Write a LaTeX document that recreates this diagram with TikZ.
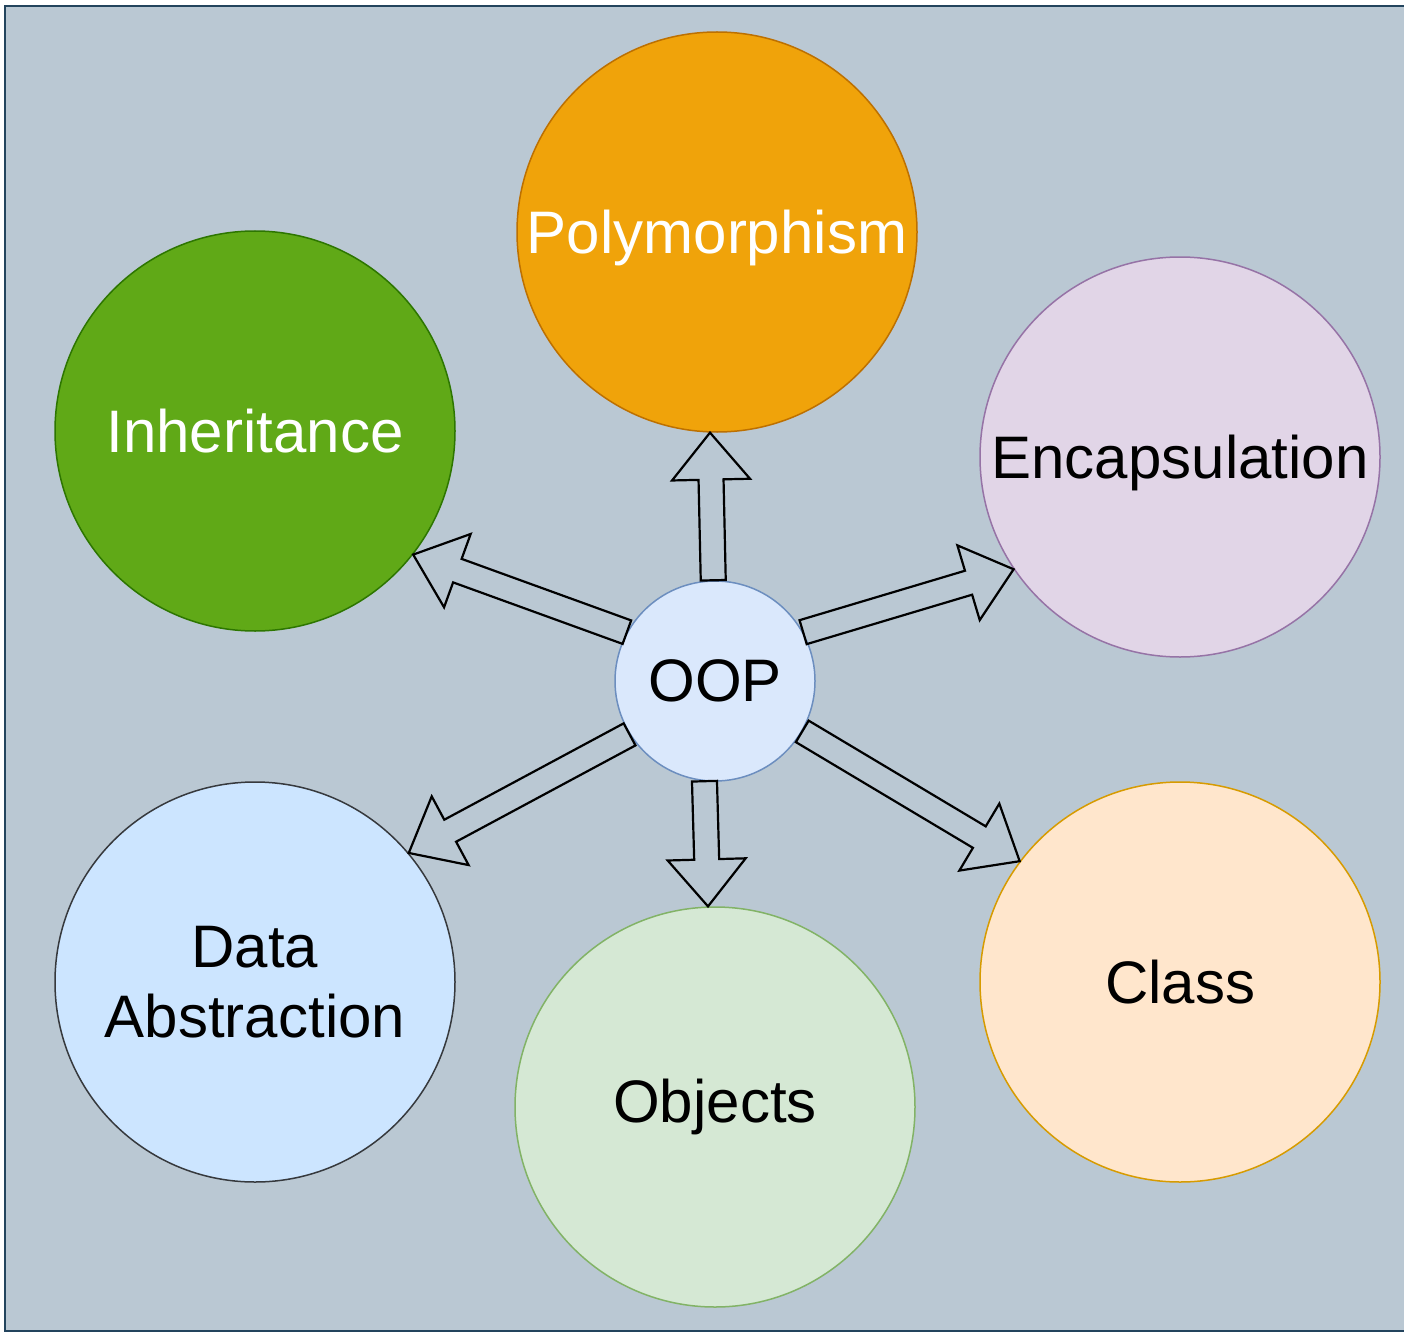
\documentclass[tikz,border=0pt]{standalone}
\usepackage{fontspec}
\setmainfont{Liberation Sans}
\usetikzlibrary{calc}

\definecolor{bgfill}{HTML}{BAC8D3}
\definecolor{bgline}{HTML}{23445D}
\definecolor{polyfill}{HTML}{F0A30A}
\definecolor{polyline}{HTML}{BD7000}
\definecolor{inhfill}{HTML}{60A917}
\definecolor{inhline}{HTML}{2D7600}
\definecolor{encfill}{HTML}{E1D5E7}
\definecolor{encline}{HTML}{9673A6}
\definecolor{oopfill}{HTML}{DAE8FC}
\definecolor{oopline}{HTML}{6C8EBF}
\definecolor{absfill}{HTML}{CCE5FF}
\definecolor{absline}{HTML}{36393D}
\definecolor{objfill}{HTML}{D5E8D4}
\definecolor{objline}{HTML}{82B366}
\definecolor{clsfill}{HTML}{FFE6CC}
\definecolor{clsline}{HTML}{D79B00}

\tikzset{
  concept/.style={circle, inner sep=0pt, minimum size=400pt, line width=1.5pt,
    align=center, font=\fontsize{60}{70}\selectfont},
  hub/.style={concept, minimum size=200pt},
  flexarrow/.style={draw=black, line width=2.2pt, line join=miter},
}

% Hollow block arrow from #1 to #2 (shaft half width 12.5, head half width 39, head length 47)
\newcommand\blockarrow[2]{%
  \coordinate (fa-s) at (#1);
  \coordinate (fa-t) at (#2);
  \coordinate (fa-h) at ($(fa-t)!47pt!(fa-s)$);
  \draw[flexarrow]
    ($(fa-s)!12.5pt!90:(fa-t)$) --
    ($(fa-h)!12.5pt!-90:(fa-s)$) --
    ($(fa-h)!39pt!-90:(fa-s)$) --
    (fa-t) --
    ($(fa-h)!39pt!90:(fa-s)$) --
    ($(fa-h)!12.5pt!90:(fa-s)$) --
    ($(fa-s)!12.5pt!-90:(fa-t)$) -- cycle;
}

\begin{document}
\begin{tikzpicture}[x=1pt, y=-1pt]
  \useasboundingbox (0,0) rectangle (1404,1332);
  % backdrop panel
  \begin{scope}
    \clip (0,0) rectangle (1404,1332);
    \draw[fill=bgfill, draw=bgline, line width=2.5pt] (5,6) rectangle (1420,1331);
  \end{scope}

  \node[concept, fill=polyfill, draw=polyline, text=white, text depth=0pt] (poly) at (717,232) {Polymorphism};
  \node[concept, fill=inhfill, draw=inhline, text=white] (inh) at (255,431) {Inheritance};
  \node[concept, fill=encfill, draw=encline, text depth=0pt] (enc) at (1180,457) {Encapsulation};
  \node[hub, fill=oopfill, draw=oopline] (oop) at (715,681) {OOP};
  \node[concept, fill=absfill, draw=absline] (abs) at (255,982) {Data\\Abstraction};
  \node[concept, fill=objfill, draw=objline] (obj) at (715,1107) {Objects};
  \node[concept, fill=clsfill, draw=clsline] (cls) at (1180,982) {Class};

  \blockarrow{oop.91.7}{poly.268.6}
  \blockarrow{oop.264.3}{obj.92.8}
  \blockarrow{oop.151}{inh.322.2}
  \blockarrow{oop.212}{abs.40.1}
  \blockarrow{oop.29.3}{enc.214.2}
  \blockarrow{oop.330.7}{cls.143.9}
\end{tikzpicture}
\end{document}
